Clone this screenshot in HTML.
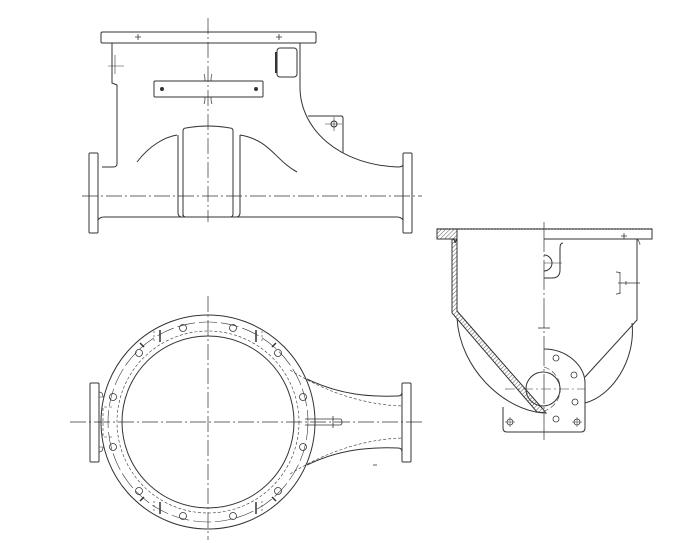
<!DOCTYPE html>
<html><head><style>html,body{margin:0;padding:0;background:#fff}svg{display:block}</style></head>
<body>
<svg width="693" height="543" viewBox="0 0 693 543" xmlns="http://www.w3.org/2000/svg" fill="none" stroke="#333" stroke-width="1">
<defs>
<pattern id="h" width="3" height="3" patternUnits="userSpaceOnUse" patternTransform="rotate(45)"><line x1="0" y1="0" x2="0" y2="3" stroke="#333" stroke-width="0.8"/></pattern>
</defs>
<!-- TOP VIEW -->
<g>
<rect x="101" y="32" width="215" height="11" rx="1.5"/>
<line x1="208" y1="18" x2="208" y2="222" stroke-dasharray="16,3,2,3" stroke-width="0.7"/>
<line x1="82" y1="196" x2="422" y2="196" stroke-dasharray="16,3,2,3" stroke-width="0.7"/>
<path d="M112 43 V83 L117 85 V164 Q117 167 113 167 H102"/>
<path d="M108 66 H124 M115 55 V74" stroke-width="0.6"/>
<rect x="89" y="153" width="9" height="80" rx="1"/>
<rect x="403" y="153" width="9" height="80" rx="1"/>
<path d="M98 220 Q100 217 104 217 H397 Q401 217 403 220"/>
<path d="M300 43 V87 C300 130 340 165 398 167 Q402 167 403 165"/>
<rect x="277" y="48" width="20" height="29" rx="3"/>
<path d="M276 52 V73" stroke-width="2"/>
<rect x="154" y="81" width="109" height="16" rx="1"/>
<path d="M205 81 Q205 76 204 74 M211 81 Q211 76 212 74 M205 97 Q205 102 204 104 M211 97 Q211 102 212 104" stroke-width="0.7"/>
<circle cx="162" cy="89" r="1.5" fill="#333"/><circle cx="256" cy="89" r="1.5" fill="#333"/>
<path d="M135 37 H141 M138 34 V40 M276 37 H282 M279 34 V40" stroke-width="0.8"/>
<path d="M308 116 H341 Q343 116 343 118 V153"/>
<circle cx="334" cy="124" r="3"/><path d="M325 124 H342 M334 117 V131" stroke-width="0.6"/>
<path d="M178 135 V213 Q178 216 181 217"/>
<path d="M183 216 V131 Q183 128 186 128 Q208 124 230 128 Q233 128 233 131 V214 Q233 217 230 217 H186 Q183 217 183 214"/>
<path d="M240 135 V213 Q240 216 237 217"/>
<path d="M137 162 C150 145 165 137 177 135"/>
<path d="M240 135 C270 140 275 160 297 172"/>
</g>
<!-- BOTTOM VIEW -->
<g>
<line x1="70" y1="422" x2="425" y2="422" stroke-dasharray="16,3,2,3" stroke-width="0.7"/>
<line x1="208" y1="296" x2="208" y2="540" stroke-dasharray="16,3,2,3" stroke-width="0.7"/>
<circle cx="208" cy="422" r="107"/>
<circle cx="208" cy="422" r="86"/>
<circle cx="208" cy="422" r="100" stroke-dasharray="18,4" stroke-width="0.6"/>
<circle cx="208" cy="422" r="91" stroke-dasharray="3,2" stroke-width="0.6"/>
<rect x="90" y="383" width="9" height="79" rx="1"/>
<rect x="402" y="383" width="9" height="79" rx="1"/>
<path d="M99 397 H104 M99 447 H104" stroke-width="0.6"/>
<path d="M99 392 Q103 392 103 397 M99 452 Q103 452 103 447" stroke-width="0.7"/>
<path d="M112 407 H103 V437 H112" stroke-dasharray="3,2" stroke-width="0.6"/>
<path d="M307 379 C340 395 370 397 398 396 Q402 396 402 392"/>
<path d="M307 465 C340 449 370 447 398 448 Q402 448 402 452"/>
<path d="M290 370 C330 395 370 405 402 406 M290 474 C330 449 370 439 402 438" stroke-dasharray="3,2" stroke-width="0.6"/>
<path d="M305 419 H340 Q342 419 342 422 Q342 425 340 425 H305 M333 416 V428" stroke-width="0.8"/>
<path d="M373 465 H377" stroke-width="0.8"/>
<g stroke-width="0.8">
<circle cx="113" cy="397" r="3.5"/><circle cx="139" cy="353" r="3.5"/><circle cx="183" cy="328" r="3.5"/><circle cx="233" cy="328" r="3.5"/><circle cx="278" cy="353" r="3.5"/><circle cx="303" cy="397" r="3.5"/>
<circle cx="303" cy="447" r="3.5"/><circle cx="278" cy="491" r="3.5"/><circle cx="233" cy="516" r="3.5"/><circle cx="183" cy="516" r="3.5"/><circle cx="139" cy="491" r="3.5"/><circle cx="113" cy="447" r="3.5"/>
</g>
<path d="M160 330 V342 M256 330 V342 M160 502 V514 M256 502 V514 M140 343 L144 347 M276 343 L272 347 M140 501 L144 497 M276 501 L272 497" stroke-width="1.5"/>
<path d="M154 331 V343 M262 331 V343 M154 501 V513 M262 501 V513" stroke-dasharray="2,2" stroke-width="0.6"/>
</g>
<!-- RIGHT VIEW -->
<g>
<line x1="544" y1="222" x2="544" y2="440" stroke-dasharray="30,3,2,3" stroke-width="0.7"/>
<path d="M437 229 H652 V239 H544" />
<path d="M437 229 V239 H452 Q455 239 455 243 L457 239 V229 Z" fill="url(#h)"/>
<path d="M437 229 H652" stroke-dasharray="2,1" stroke-width="1.2"/>
<path d="M452 239 V313 L537 412 L546 413 L542 408 L457 311 V239 Z" fill="url(#h)"/>
<path d="M457 318 C460 370 505 410 543 413"/>
<path d="M637 239 V320 L585 377"/>
<path d="M632 323 C636 360 612 396 585 403"/>
<path d="M637 239 Q640 242 640 245" stroke-width="0.6"/>
<path d="M563 243 Q560 243 560 248 V270 Q560 278 552 278 H544" />
<path d="M544 255 A8 8 0 0 1 544 271" />
<path d="M544 263 H562" stroke-width="0.6"/>
<path d="M620 274 Q620 272 616 272 M620 292 Q620 294 616 294 M620 272 V294" stroke-width="0.7"/>
<path d="M618 283 H640 M626 281 V285" stroke-width="0.7"/>
<path d="M538 328 H550" stroke-width="0.8"/>
<path d="M624 233 V239 M621 236 H627" stroke-width="0.8"/>
<path d="M544 349 C566 349 585 365 585 383 V428 Q585 432 581 432 H507 Q503 432 503 428 V407" />
<circle cx="543" cy="389" r="17"/>
<path d="M544 367 A23 23 0 0 1 544 411" stroke-dasharray="6,3" stroke-width="0.6"/>
<path d="M505 389 H585" stroke-dasharray="10,3,2,3" stroke-width="0.6"/>
<g stroke-width="0.8">
<circle cx="510" cy="422" r="3"/><circle cx="577" cy="422" r="3"/>
<path d="M510 417 V427 M505 422 H515 M577 417 V427 M572 422 H582" stroke-width="0.5"/>
<circle cx="556" cy="358" r="3"/><circle cx="574" cy="375" r="3"/><circle cx="575" cy="402" r="3"/><circle cx="556" cy="419" r="3"/>
</g>
</g>
</svg>
</body></html>
